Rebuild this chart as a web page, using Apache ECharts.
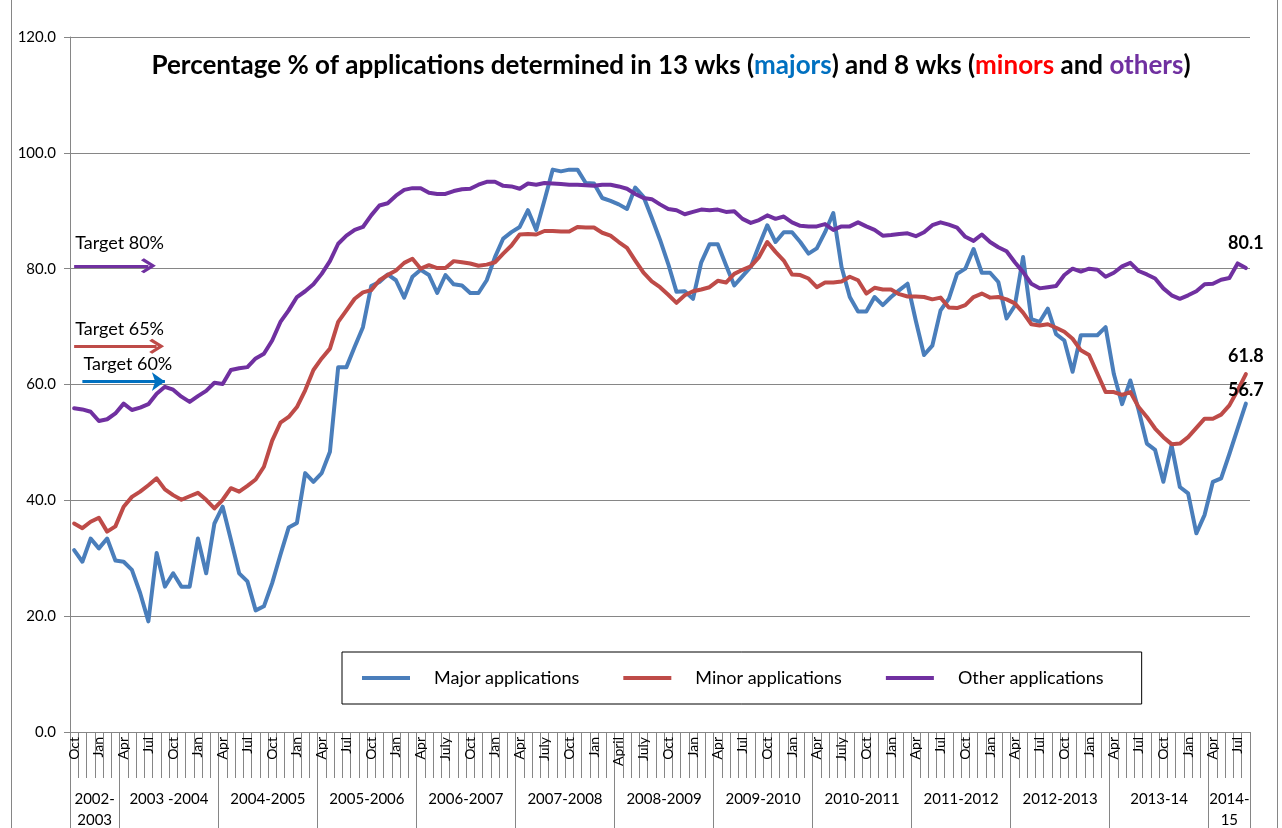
<!DOCTYPE html>
<html>
<head>
    <meta charset="UTF-8">
    <title>Applications determined in time</title>
    <script type="text/javascript" src="https://cdn.jsdelivr.net/npm/echarts@6/dist/echarts.min.js"></script>
</head>
<body style="margin: 0;overflow: hidden;background: #fff;width: 1282px;height: 828px;">
<div id="chart" style="width: 1282px;height: 828px"></div>
<script type="text/javascript">
    // monthly values, Oct 2002 .. Aug 2014
    var majors = [
        31.4, 29.4, 33.4, 31.7, 33.4, 29.6, 29.4, 28.0, 24.0, 19.1,
        30.9, 25.1, 27.4, 25.1, 25.1, 33.4, 27.4, 36.0, 38.9, 33.2,
        27.4, 26.0, 21.0, 21.7, 25.7, 30.6, 35.3, 36.1, 44.7, 43.2,
        44.7, 48.4, 63.0, 63.0, 66.5, 69.9, 77.0, 77.7, 79.0, 78.0,
        75.0, 78.6, 79.8, 78.9, 75.8, 78.9, 77.3, 77.1, 75.8, 75.8,
        78.0, 82.0, 85.2, 86.3, 87.2, 90.1, 86.7, 91.8, 97.1, 96.8,
        97.1, 97.1, 94.8, 94.7, 92.2, 91.7, 91.1, 90.3, 94.0, 92.4,
        88.8, 85.0, 80.8, 76.0, 76.1, 74.8, 81.1, 84.2, 84.2, 80.6,
        77.1, 78.7, 80.3, 84.0, 87.5, 84.6, 86.3, 86.3, 84.6, 82.6,
        83.5, 86.3, 89.6, 80.3, 75.1, 72.6, 72.6, 75.1, 73.7, 75.1,
        76.3, 77.4, 71.0, 65.1, 66.7, 72.8, 74.8, 79.1, 80.0, 83.4,
        79.3, 79.3, 77.7, 71.4, 73.6, 82.0, 71.3, 70.8, 73.1, 68.7,
        67.6, 62.2, 68.5, 68.5, 68.5, 69.9, 61.8, 56.6, 60.7, 55.6,
        49.8, 48.7, 43.2, 49.5, 42.3, 41.2, 34.3, 37.5, 43.2, 43.8,
        48.0, 52.4, 56.7
    ];
    var minors = [
        36.0, 35.2, 36.3, 37.0, 34.6, 35.5, 38.9, 40.6, 41.5, 42.6,
        43.8, 41.9, 40.9, 40.1, 40.7, 41.3, 40.1, 38.6, 40.1, 42.1,
        41.5, 42.5, 43.6, 45.8, 50.3, 53.4, 54.4, 56.1, 59.0, 62.5,
        64.5, 66.2, 70.8, 72.8, 74.8, 75.9, 76.3, 78.0, 78.9, 79.7,
        81.0, 81.7, 80.0, 80.6, 80.1, 80.1, 81.3, 81.1, 80.9, 80.5,
        80.7, 81.1, 82.6, 84.0, 85.9, 86.0, 85.9, 86.5, 86.5, 86.4,
        86.4, 87.2, 87.1, 87.1, 86.2, 85.7, 84.6, 83.6, 81.4, 79.3,
        77.8, 76.8, 75.5, 74.1, 75.4, 76.1, 76.4, 76.8, 77.9, 77.6,
        79.1, 79.8, 80.4, 82.0, 84.6, 82.9, 81.4, 79.0, 78.9, 78.3,
        76.8, 77.6, 77.6, 77.8, 78.6, 78.0, 75.7, 76.7, 76.4, 76.4,
        75.6, 75.2, 75.2, 75.1, 74.7, 75.0, 73.3, 73.2, 73.7, 75.1,
        75.7, 75.0, 75.1, 74.7, 74.0, 72.4, 70.4, 70.2, 70.4, 69.8,
        69.1, 67.9, 65.9, 65.1, 61.9, 58.7, 58.7, 58.2, 58.7, 56.1,
        54.4, 52.4, 50.9, 49.7, 49.8, 50.9, 52.5, 54.1, 54.1, 54.8,
        56.4, 59.0, 61.8
    ];
    var others = [
        55.9, 55.7, 55.3, 53.7, 54.0, 55.0, 56.7, 55.6, 56.0, 56.6,
        58.4, 59.6, 59.1, 57.9, 57.0, 58.0, 58.9, 60.3, 60.1, 62.5,
        62.8, 63.0, 64.5, 65.3, 67.6, 70.8, 72.8, 75.1, 76.1, 77.3,
        79.1, 81.3, 84.3, 85.7, 86.7, 87.2, 89.2, 90.9, 91.3, 92.6,
        93.6, 93.9, 93.9, 93.1, 92.9, 92.9, 93.4, 93.7, 93.8, 94.5,
        95.0, 95.0, 94.3, 94.2, 93.8, 94.7, 94.5, 94.8, 94.7, 94.6,
        94.5, 94.5, 94.4, 94.3, 94.5, 94.5, 94.2, 93.8, 92.9, 92.2,
        92.0, 91.1, 90.3, 90.1, 89.4, 89.8, 90.2, 90.1, 90.2, 89.8,
        89.9, 88.6, 87.9, 88.4, 89.2, 88.6, 89.0, 88.0, 87.4, 87.3,
        87.3, 87.7, 86.7, 87.3, 87.3, 88.0, 87.3, 86.7, 85.7, 85.8,
        86.0, 86.1, 85.6, 86.3, 87.5, 88.0, 87.6, 87.1, 85.5, 84.8,
        85.9, 84.6, 83.7, 83.0, 81.1, 79.4, 77.4, 76.6, 76.8, 77.0,
        78.9, 80.0, 79.5, 80.0, 79.8, 78.6, 79.3, 80.4, 81.0, 79.6,
        79.0, 78.3, 76.6, 75.4, 74.8, 75.4, 76.1, 77.3, 77.4, 78.1,
        78.4, 80.9, 80.1
    ];

    // one label every third month, starting at Oct 2002
    var quarterLabels = ['Oct', 'Jan',
        'Apr', 'Jul', 'Oct', 'Jan',
        'Apr', 'Jul', 'Oct', 'Jan',
        'Apr', 'Jul', 'Oct', 'Jan',
        'Apr', 'July', 'Oct', 'Jan',
        'Apr', 'July', 'Oct', 'Jan',
        'April', 'July', 'Oct', 'Jan',
        'Apr', 'Jul', 'Oct', 'Jan',
        'Apr', 'July', 'Oct', 'Jan',
        'Apr', 'Jul', 'Oct', 'Jan',
        'Apr', 'Jul', 'Oct', 'Jan',
        'Apr', 'Jul', 'Oct', 'Jan',
        'Apr', 'Jul'];
    var yearLabels = ['2002-\n2003', '2003 -2004', '2004-2005', '2005-2006', '2006-2007', '2007-2008',
        '2008-2009', '2009-2010', '2010-2011', '2011-2012', '2012-2013', '2013-14', '2014-\n15'];
    var yearStarts = [0, 6, 18, 30, 42, 54, 66, 78, 90, 102, 114, 126, 138];

    // target arrows (level as drawn in the picture, label text)
    var targetLevels = [60.5, 66.6, 80.5];
    var targetNames = ['Target 60%', 'Target 65%', 'Target 80%'];

    var months = majors.map(function (v, i) { return 'm' + i; });
    var nMonths = months.length;

    // where each year label sits: the middle category of its span
    var yearLabelAt = {};
    yearStarts.forEach(function (s, k) {
        var e = k + 1 < yearStarts.length ? yearStarts[k + 1] : nMonths;
        var mid = (s + e) / 2;
        if (mid % 1 === 0) {
            yearLabelAt[mid - 1] = '{h|' + yearLabels[k].split('\n').join('}\n{h|') + '}';
        } else {
            yearLabelAt[Math.floor(mid)] = '{c|' + yearLabels[k].split('\n').join('}\n{c|') + '}';
        }
    });

    var FONT = 'Lato';
    var grey = '#868686';
    var colors = {major: '#4a7ebb', minor: '#be4b48', other: '#7030a0'};
    var chevron = 'path://M0,0 L12,12 L9,15 L0,6 L-9,15 L-12,12 Z';

    function arrow(level, name, color, x0, x1, head, dy) {
        return {
            silent: true,
            animation: false,
            symbol: ['none', head],
            symbolSize: head === 'arrow' ? [14, 13] : [15, 15],
            lineStyle: {color: color, width: 3, type: 'solid'},
            label: {
                show: true,
                position: 'insideStartTop',
                distance: [1, dy],
                formatter: name,
                color: '#000',
                fontFamily: FONT,
                fontSize: 18
            },
            data: [[{coord: [x0, level]}, {coord: [x1, level]}]]
        };
    }

    function endLabel(data, dist) {
        var last = data.length - 1;
        return {
            silent: true,
            animation: false,
            symbol: 'circle',
            symbolSize: 0,
            label: {
                show: true,
                position: 'top',
                distance: dist,
                formatter: data[last].toFixed(1),
                color: '#000',
                fontFamily: FONT,
                fontWeight: 'bold',
                fontSize: 18
            },
            data: [{coord: [last, data[last]], value: data[last]}]
        };
    }

    function line(name, data, color) {
        return {
            name: name,
            type: 'line',
            data: data,
            symbol: 'none',
            lineStyle: {color: color, width: 4, cap: 'round', join: 'round'},
            itemStyle: {color: color}
        };
    }

    var s1 = line('Major applications', majors, colors.major);
    s1.markLine = arrow(targetLevels[0], targetNames[0], '#0070c0', 0.6, 10.5, 'arrow', 8);
    s1.markPoint = endLabel(majors, 4);
    var s2 = line('Minor applications', minors, colors.minor);
    s2.markLine = arrow(targetLevels[1], targetNames[1], colors.minor, 0.1, 9.9, chevron, 8);
    s2.markPoint = endLabel(minors, 9);
    var s3 = line('Other applications', others, colors.other);
    s3.markLine = arrow(targetLevels[2], targetNames[2], colors.other, -0.4, 9.4, chevron, 14);
    s3.markPoint = endLabel(others, 16);

    var chart = echarts.init(document.getElementById('chart'));
    chart.setOption({
        backgroundColor: '#fff',
        animation: false,
        textStyle: {fontFamily: FONT},
        title: {
            left: 666,
            top: 48,
            textAlign: 'center',
            text: '{b|Percentage % of applications determined in 13 wks (}{m|majors}{b|) and 8 wks (}{n|minors}{b| and }{o|others}{b|)}',
            textStyle: {
                rich: {
                    b: {color: '#000', fontWeight: 'bold', fontSize: 26, fontFamily: FONT},
                    m: {color: '#0070c0', fontWeight: 'bold', fontSize: 26, fontFamily: FONT},
                    n: {color: '#ff0000', fontWeight: 'bold', fontSize: 26, fontFamily: FONT},
                    o: {color: '#7030a0', fontWeight: 'bold', fontSize: 26, fontFamily: FONT}
                }
            }
        },
        legend: {
            left: 342,
            top: 652,
            padding: [17, 38, 17, 20],
            itemGap: 44,
            itemWidth: 48,
            itemHeight: 4,
            icon: 'rect',
            borderColor: '#000',
            borderWidth: 1,
            textStyle: {color: '#000', fontSize: 18, fontFamily: FONT, padding: [0, 0, 0, 19]},
            data: ['Major applications', 'Minor applications', 'Other applications']
        },
        grid: {left: 70, right: 32, top: 37, bottom: 96, containLabel: false},
        xAxis: [{
            type: 'category',
            data: months,
            boundaryGap: true,
            axisLine: {show: true, lineStyle: {color: grey, width: 1}},
            axisTick: {show: true, interval: 0, length: 46, lineStyle: {color: grey}},
            axisLabel: {
                interval: function (i) { return i % 3 === 0; },
                formatter: function (v, i) { return quarterLabels[i / 3] || ''; },
                rotate: 90,
                margin: 5,
                color: '#000',
                fontSize: 14,
                fontFamily: FONT
            },
            splitLine: {show: false}
        }, {
            type: 'category',
            data: months,
            position: 'bottom',
            offset: 46,
            boundaryGap: true,
            axisLine: {show: false},
            axisTick: {
                show: true,
                length: 52,
                interval: function (i) { return yearStarts.indexOf(i) >= 0; },
                lineStyle: {color: grey}
            },
            axisLabel: {
                interval: function (i) { return yearLabelAt[i] !== undefined; },
                formatter: function (v, i) { return yearLabelAt[i] || ''; },
                margin: 11,
                rich: {
                    h: {color: '#000', fontSize: 15, fontFamily: FONT, lineHeight: 21, padding: [0, 0, 0, 8]},
                    c: {color: '#000', fontSize: 15, fontFamily: FONT, lineHeight: 21}
                }
            },
            splitLine: {show: false}
        }],
        yAxis: {
            type: 'value',
            min: 0,
            max: 120,
            interval: 20,
            axisLine: {show: true, lineStyle: {color: grey}},
            axisTick: {show: true, length: 6, lineStyle: {color: grey}},
            axisLabel: {
                formatter: function (v) { return v.toFixed(1); },
                color: '#000',
                fontSize: 15,
                fontFamily: FONT,
                margin: 14
            },
            splitLine: {show: true, lineStyle: {color: grey, width: 1}}
        },
        graphic: [{
            type: 'rect',
            silent: true,
            shape: {x: 11.5, y: -2, width: 1266, height: 840},
            style: {fill: 'none', stroke: '#868686', lineWidth: 1}
        }],
        series: [s1, s2, s3]
    });
</script>
</body>
</html>
